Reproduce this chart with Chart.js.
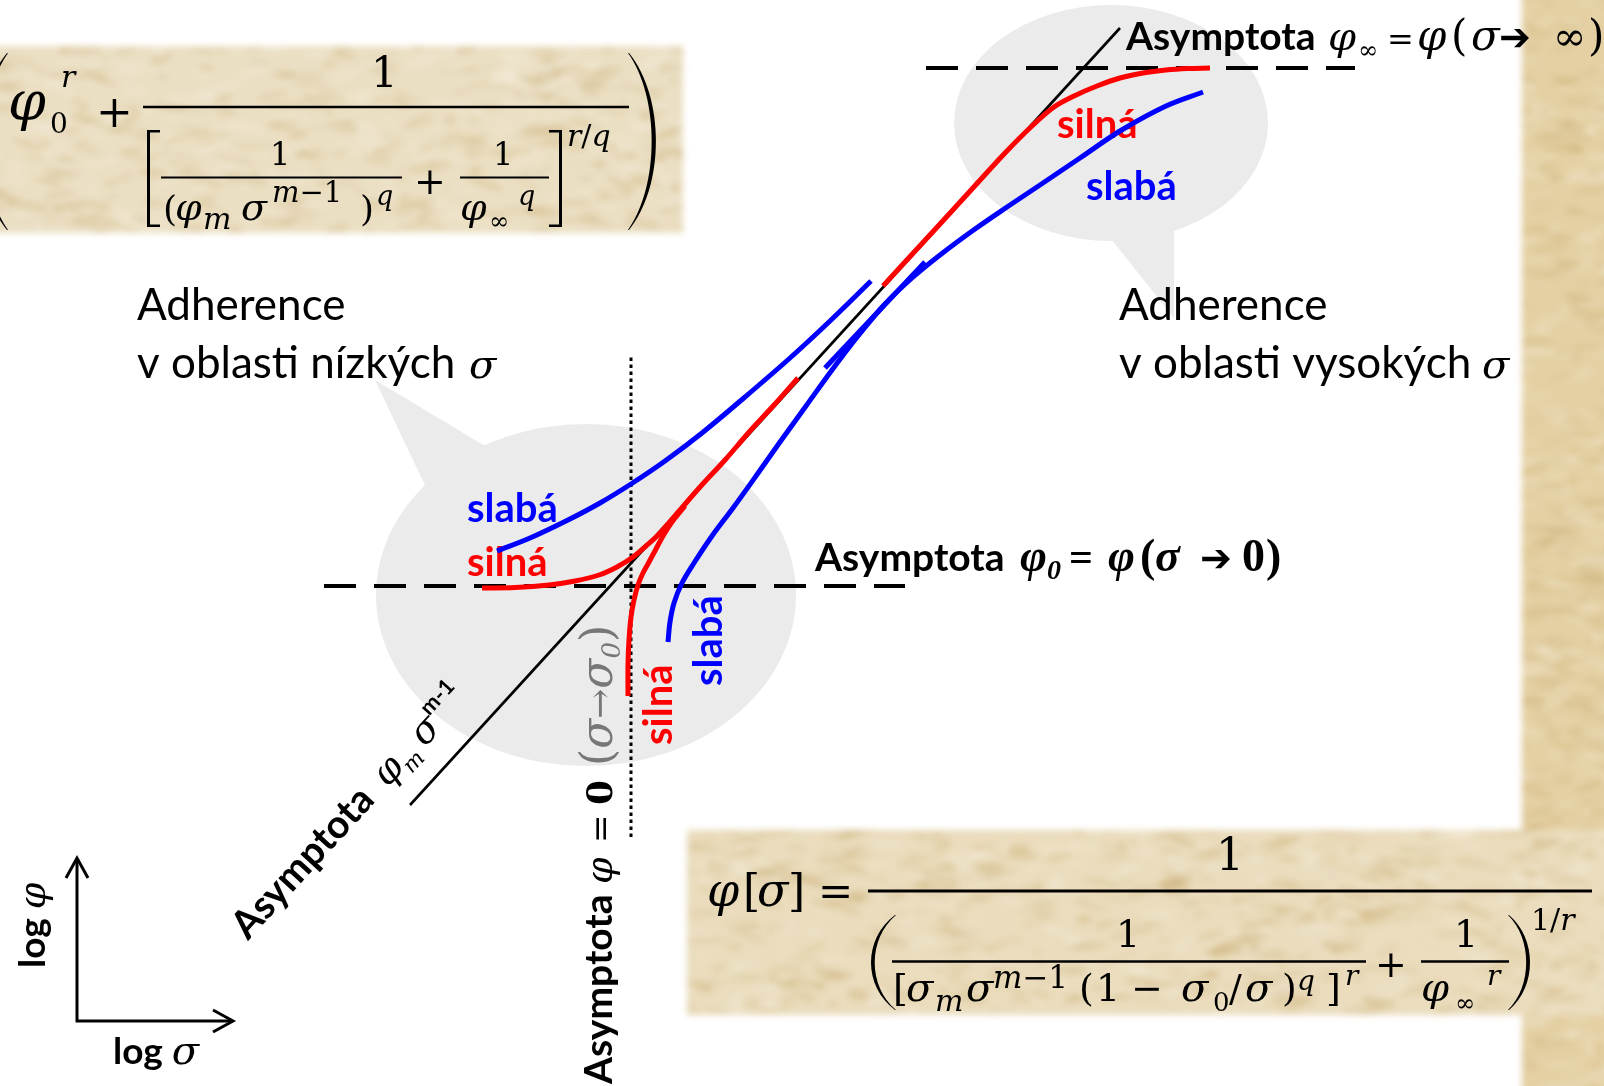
<!DOCTYPE html>
<html lang="cs">
<head>
<meta charset="UTF-8">
<title>Adheze – asymptoty funkce φ(σ)</title>
<script src="https://cdn.jsdelivr.net/npm/chart.js"></script>
<style>
  html, body { margin: 0; padding: 0; background: #fff; overflow: hidden; }
  #wrap { width: 1604px; height: 1086px; }
</style>
</head>
<body>
<div id="wrap"><canvas id="adheze" width="1604" height="1086"></canvas></div>
<script>
// x = log σ, y = log φ (drawing units, y grows upwards)
const W = 1604, H = 1086;

// asymptoty
const asymMX = [410, 1120];
const asymMY = [281, 1058];
const phi0X = [324, 905];
const phi0Y = [500, 500];
const phiInfX = [926, 1355];
const phiInfY = [1018, 1018];
const sigma0X = [631, 631];
const sigma0Y = [249, 730];

// silná adheze
const strongLowX = [482, 515, 549, 575, 599, 617, 633, 646, 658, 680, 700, 725, 750, 775, 798];
const strongLowY = [498, 498.5, 501, 505, 511, 519, 529, 540, 551, 576, 599, 626, 655, 682, 708];
const strongS0X = [628, 628, 629, 631, 634, 638, 643, 649, 656, 663, 672, 685];
const strongS0Y = [390, 421, 446, 469, 486, 501, 513, 524, 537, 550, 564, 580];
const strongHighX = [883, 905, 940, 972, 1005, 1032, 1054, 1074, 1097, 1120, 1143, 1166, 1188, 1210];
const strongHighY = [800, 824, 862, 897, 933, 960, 979, 990, 1000, 1008, 1013, 1016, 1017.5, 1018];

// slabá adheze
const weakLowX = [497, 530, 568, 600, 631, 665, 702, 745, 790, 830, 871];
const weakLowY = [535, 548, 566, 583, 602, 625, 653, 689, 728, 765, 805];
const weakS0X = [668, 670, 674, 682, 694, 712, 733, 756, 780, 806, 832, 858, 885, 912, 940, 975, 1010, 1040, 1080, 1120, 1166, 1203];
const weakS0Y = [444, 464, 483, 503, 523, 550, 578, 610, 644, 680, 716, 750, 782, 808, 831, 857, 881, 901, 928, 955, 980, 994];
const weakHighX = [825, 875, 925];
const weakHighY = [718, 771, 824];

const RED = '#ff0000', BLUE = '#0000ff', GRAY = '#777777', BUBBLE = '#ebebeb';
const MATH = '"DejaVu Serif", "Liberation Serif", serif';
const TIMES = '"Liberation Serif", serif';
const SANS = 'Lato, "Open Sans", sans-serif';
const sansR = s => `${s}px ${SANS}`;
const sansB = s => `bold ${s}px ${SANS}`;
const mR = s => `${s}px ${MATH}`;
const mI = s => `italic ${s}px ${MATH}`;
const mB = s => `bold ${s}px ${MATH}`;
const tB = s => `bold ${s}px ${TIMES}`;
const tBI = s => `italic bold ${s}px ${TIMES}`;
const ARROW = 'bold 38px "DejaVu Sans"';

// bubliny (střed, poloosy, špička)
const bubbles = [
  { cx: 1111, cy: 963, rx: 157, ry: 118, tail: [[1100, 861], [1174, 861], [1174, 768]] },
  { cx: 586, cy: 491, rx: 210, ry: 171, tail: [[432, 586], [500, 631], [375, 706]] }
];

const pts = (xs, ys) => xs.map((x, i) => ({ x, y: ys[i] }));

function line(label, xs, ys, color, width, order, extra) {
  return Object.assign({
    label, data: pts(xs, ys), showLine: true, borderColor: color, borderWidth: width,
    pointRadius: 0, tension: 0, fill: false, order, clip: false
  }, extra || {});
}

const hash = n => { const s = Math.sin(n * 12.9898 + 78.233) * 43758.5453; return s - Math.floor(s); };

// papírové pozadí vzorců
function parchment(ctx, x, y, w, h, base, seed) {
  const off = document.createElement('canvas');
  off.width = w; off.height = h;
  const o = off.getContext('2d');
  o.fillStyle = base;
  o.fillRect(0, 0, w, h);
  const n = Math.round(w * h / 220);
  for (let i = 0; i < n; i++) {
    const k = seed * 10000 + i * 7;
    o.globalAlpha = 0.10 + 0.16 * hash(k + 4);
    o.fillStyle = hash(k + 3) > 0.45 ? '#c6a86c' : '#f8f3e6';
    o.beginPath();
    o.ellipse(hash(k) * w, hash(k + 1) * h, 4 + 18 * hash(k + 2), 1.5 + 4 * hash(k + 5), (hash(k + 6) - 0.5) * 0.8, 0, Math.PI * 2);
    o.fill();
  }
  ctx.save();
  ctx.filter = 'blur(3px)';
  ctx.drawImage(off, x, y);
  ctx.restore();
}

function runs(ctx, x0, y0, ang, parts) {
  ctx.save();
  ctx.translate(x0, y0);
  ctx.rotate(ang);
  let cx = 0;
  parts.forEach(p => {
    if (p.at !== undefined) cx = p.at;
    ctx.font = p.font;
    ctx.fillStyle = p.color || '#000';
    ctx.fillText(p.t, cx, p.dy || 0);
    cx += ctx.measureText(p.t).width;
  });
  ctx.restore();
}

function put(ctx, t, x, y, font) {
  ctx.font = font;
  ctx.fillStyle = '#000';
  ctx.fillText(t, x, y);
}

function bar(ctx, x1, x2, y, h) {
  ctx.fillStyle = '#000';
  ctx.fillRect(x1, y - h / 2, x2 - x1, h);
}

// velká závorka: konce v x, vyklenutí o w ve směru dir
function paren(ctx, x, yT, yB, dir, w, t) {
  const c = w / 0.75, h = yB - yT;
  ctx.fillStyle = '#000';
  ctx.beginPath();
  ctx.moveTo(x, yT);
  ctx.bezierCurveTo(x + dir * c, yT + h * 0.25, x + dir * c, yB - h * 0.25, x, yB);
  ctx.lineTo(x - dir * 1, yB);
  ctx.bezierCurveTo(x + dir * (c - t / 0.75), yB - h * 0.25, x + dir * (c - t / 0.75), yT + h * 0.25, x - dir * 1, yT);
  ctx.closePath();
  ctx.fill();
}

function bracket(ctx, x, yT, yB, dir) {
  ctx.fillStyle = '#000';
  ctx.fillRect(dir > 0 ? x : x - 3, yT, 3, yB - yT);
  ctx.fillRect(dir > 0 ? x : x - 13, yT, 13, 2.5);
  ctx.fillRect(dir > 0 ? x : x - 13, yB - 2.5, 13, 2.5);
}

function formulaTop(ctx) {
  paren(ctx, 7, 53, 230, -1, 27, 4);
  put(ctx, 'φ', 8, 120, mI(54));
  put(ctx, '0', 50, 133, mR(28));
  put(ctx, 'r', 61, 87, mI(30));
  put(ctx, '+', 96, 127, mR(44));
  bar(ctx, 143, 629, 107, 2.5);
  put(ctx, '1', 371, 87, mR(42));
  bracket(ctx, 147, 130, 227, 1);
  put(ctx, '1', 270, 165, mR(32));
  bar(ctx, 161, 402, 177.5, 2);
  put(ctx, '(', 163, 221, mR(36));
  put(ctx, 'φ', 175, 220, mI(38));
  put(ctx, 'm', 203, 229, mI(30));
  put(ctx, 'σ', 241, 220, mI(38));
  runs(ctx, 272, 202, 0, [{ t: 'm', font: mI(29) }, { t: '−1', font: mR(29) }]);
  put(ctx, ')', 360, 221, mR(36));
  put(ctx, 'q', 376, 205, mI(27));
  put(ctx, '+', 414, 194, mR(38));
  put(ctx, '1', 493, 165, mR(32));
  bar(ctx, 460, 549, 177.5, 2);
  put(ctx, 'φ', 460, 220, mI(38));
  put(ctx, '∞', 489, 229, mR(24));
  put(ctx, 'q', 518, 205, mI(27));
  bracket(ctx, 562, 130, 227, -1);
  runs(ctx, 567, 146, 0, [{ t: 'r', font: mI(30) }, { t: '/', font: mR(30) }, { t: 'q', font: mI(30) }]);
  paren(ctx, 629, 53, 230, 1, 27, 4);
}

function formulaBottom(ctx) {
  put(ctx, 'φ', 707, 906, mI(46));
  put(ctx, '[', 743, 906, mR(44));
  put(ctx, 'σ', 757, 906, mI(46));
  put(ctx, ']', 788, 906, mR(44));
  put(ctx, '=', 818, 906, mR(42));
  put(ctx, '1', 1216, 870, mR(44));
  bar(ctx, 868, 1592, 891, 3);
  paren(ctx, 895, 915, 1010, -1, 24, 3.5);
  put(ctx, '1', 1116, 947, mR(38));
  bar(ctx, 892, 1366, 961.5, 2.5);
  put(ctx, '[', 893, 1001, mR(38));
  put(ctx, 'σ', 906, 1001, mI(40));
  put(ctx, 'm', 935, 1011, mI(30));
  put(ctx, 'σ', 966, 1001, mI(40));
  runs(ctx, 993, 988, 0, [{ t: 'm', font: mI(31) }, { t: '−1', font: mR(31) }]);
  put(ctx, '(', 1079, 1001, mR(38));
  put(ctx, '1', 1096, 1001, mR(38));
  put(ctx, '−', 1131, 1001, mR(38));
  put(ctx, 'σ', 1181, 1001, mI(40));
  put(ctx, '0', 1213, 1011, mR(26));
  put(ctx, '/', 1229, 1001, mR(38));
  put(ctx, 'σ', 1245, 1001, mI(40));
  put(ctx, ')', 1282, 1001, mR(38));
  put(ctx, 'q', 1297, 990, mI(28));
  put(ctx, ']', 1326, 1001, mR(38));
  put(ctx, 'r', 1345, 985, mI(28));
  put(ctx, '+', 1375, 977, mR(38));
  put(ctx, '1', 1454, 947, mR(38));
  bar(ctx, 1421, 1509, 961.5, 2.5);
  put(ctx, 'φ', 1421, 1001, mI(40));
  put(ctx, '∞', 1455, 1011, mR(24));
  put(ctx, 'r', 1487, 985, mI(28));
  paren(ctx, 1509, 915, 1010, 1, 21, 3.5);
  runs(ctx, 1531, 930, 0, [{ t: '1/', font: mR(30) }, { t: 'r', font: mI(30) }]);
}

function axesArrows(ctx) {
  ctx.save();
  ctx.strokeStyle = '#000';
  ctx.lineWidth = 3;
  ctx.beginPath();
  ctx.moveTo(77, 860); ctx.lineTo(77, 1021); ctx.lineTo(231, 1021);
  ctx.stroke();
  ctx.beginPath();
  ctx.moveTo(66, 878); ctx.lineTo(77, 858); ctx.lineTo(88, 878);
  ctx.moveTo(213, 1010); ctx.lineTo(233, 1021); ctx.lineTo(213, 1032);
  ctx.stroke();
  ctx.restore();
}

const decor = {
  id: 'decor',
  beforeDraw(chart) {
    const { ctx, scales: { x, y } } = chart;
    ctx.save();
    ctx.fillStyle = '#fff';
    ctx.fillRect(0, 0, chart.width, chart.height);
    parchment(ctx, -20, 46, 703, 187, '#ebdfc3', 1);
    parchment(ctx, 1522, -20, 100, 1130, '#e4d0a3', 2);
    parchment(ctx, 687, 830, 937, 185, '#eadcbc', 3);
    ctx.fillStyle = BUBBLE;
    bubbles.forEach(b => {
      const cx = x.getPixelForValue(b.cx), cy = y.getPixelForValue(b.cy);
      ctx.beginPath();
      ctx.ellipse(cx, cy, x.getPixelForValue(b.cx + b.rx) - cx, cy - y.getPixelForValue(b.cy + b.ry), 0, 0, Math.PI * 2);
      ctx.fill();
      ctx.beginPath();
      b.tail.forEach(([tx, ty], i) => {
        const px = x.getPixelForValue(tx), py = y.getPixelForValue(ty);
        i ? ctx.lineTo(px, py) : ctx.moveTo(px, py);
      });
      ctx.closePath();
      ctx.fill();
    });
    ctx.restore();
  },
  beforeDatasetsDraw(chart) {
    const ctx = chart.ctx;
    ctx.save();
    ctx.textAlign = 'left';
    ctx.textBaseline = 'alphabetic';

    runs(ctx, 137, 320, 0, [{ t: 'Adherence', font: sansR(44) }]);
    runs(ctx, 137, 378, 0, [{ t: 'v oblasti nízkých ', font: sansR(44) }, { t: 'σ', at: 332, font: mI(40) }]);
    runs(ctx, 1119, 320, 0, [{ t: 'Adherence', font: sansR(44) }]);
    runs(ctx, 1119, 378, 0, [{ t: 'v oblasti vysokých ', font: sansR(44) }, { t: 'σ', at: 363, font: mI(40) }]);

    runs(ctx, 1057, 138, 0, [{ t: 'silná', font: sansB(40), color: RED }]);
    runs(ctx, 1086, 200, 0, [{ t: 'slabá', font: sansB(40), color: BLUE }]);
    runs(ctx, 467, 522, 0, [{ t: 'slabá', font: sansB(40), color: BLUE }]);
    runs(ctx, 467, 576, 0, [{ t: 'silná', font: sansB(40), color: RED }]);
    runs(ctx, 722, 686, -Math.PI / 2, [{ t: 'slabá', font: sansB(40), color: BLUE }]);
    runs(ctx, 672, 745, -Math.PI / 2, [{ t: 'silná', font: sansB(40), color: RED }]);

    runs(ctx, 1126, 50, 0, [
      { t: 'Asymptota', font: sansB(39) },
      { t: 'φ', at: 202, font: mI(40) },
      { t: '∞', at: 232, font: mI(24), dy: 8 },
      { t: '=', at: 261, font: mR(32) },
      { t: 'φ', at: 291, font: mI(42) },
      { t: '(', at: 325, font: mR(42) },
      { t: 'σ', at: 345, font: mI(42) },
      { t: '➔', at: 373, font: ARROW },
      { t: '∞', at: 427, font: mR(40) },
      { t: ')', at: 462, font: mR(42) }
    ]);
    runs(ctx, 815, 571, 0, [
      { t: 'Asymptota', font: sansB(39) },
      { t: 'φ', at: 205, font: tBI(46) },
      { t: '0', font: tBI(28), dy: 8 },
      { t: '=', at: 254, font: tB(42) },
      { t: 'φ', at: 293, font: tBI(46) },
      { t: '(', at: 325, font: tB(46) },
      { t: 'σ', at: 340, font: tBI(46) },
      { t: '➔', at: 385, font: ARROW },
      { t: '0', at: 427, font: tB(46) },
      { t: ')', at: 451, font: tB(46) }
    ]);
    runs(ctx, 612, 1084, -Math.PI / 2, [
      { t: 'Asymptota', font: sansB(39) },
      { t: 'φ', at: 200, font: mI(38) },
      { t: '=', at: 241, font: mR(34) },
      { t: '0', at: 279, font: mB(36) },
      { t: '(', at: 318, font: mR(44), color: GRAY },
      { t: 'σ', font: mI(44), color: GRAY },
      { t: '→', font: mR(36), color: GRAY },
      { t: 'σ', font: mI(44), color: GRAY },
      { t: '0', font: mI(26), color: GRAY, dy: 8 },
      { t: ')', font: mR(44), color: GRAY }
    ]);
    runs(ctx, 248, 941, -Math.atan2(775, 710), [
      { t: 'Asymptota', font: sansB(39) },
      { t: 'φ', at: 207, font: mI(38) },
      { t: 'm', font: mI(22), dy: 8 },
      { t: 'σ', at: 262, font: mI(38) },
      { t: 'm-1', at: 288, font: sansB(22), dy: -18 }
    ]);

    runs(ctx, 45, 968, -Math.PI / 2, [{ t: 'log ', font: sansB(37) }, { t: 'φ', font: mI(38) }]);
    runs(ctx, 113, 1064, 0, [{ t: 'log ', font: sansB(37) }, { t: 'σ', font: mI(40) }]);
    axesArrows(ctx);

    formulaTop(ctx);
    formulaBottom(ctx);
    ctx.restore();
  }
};

function build() {
  const curve = { tension: 0.35 };
  new Chart(document.getElementById('adheze'), {
    type: 'scatter',
    data: {
      datasets: [
        line('silná – nízké σ', strongLowX, strongLowY, RED, 5, 0, curve),
        line('silná – σ0', strongS0X, strongS0Y, RED, 5, 0, curve),
        line('silná – vysoké σ', strongHighX, strongHighY, RED, 5, 0, curve),
        line('slabá – nízké σ', weakLowX, weakLowY, BLUE, 5, 1, curve),
        line('slabá – σ0', weakS0X, weakS0Y, BLUE, 5, 1, curve),
        line('slabá – vysoké σ', weakHighX, weakHighY, BLUE, 5, 1, curve),
        line('φm σ^(m-1)', asymMX, asymMY, '#000', 2.6, 2),
        line('φ0', phi0X, phi0Y, '#000', 4, 3, { borderDash: [32, 18] }),
        line('φ∞', phiInfX, phiInfY, '#000', 4, 3, { borderDash: [32, 18] }),
        line('σ0', sigma0X, sigma0Y, '#000', 3, 4, { borderDash: [3.5, 3.5] })
      ]
    },
    options: {
      responsive: false,
      animation: false,
      events: [],
      layout: { padding: 0, autoPadding: false },
      plugins: { legend: { display: false }, tooltip: { enabled: false } },
      scales: {
        x: { type: 'linear', min: 0, max: W, display: false },
        y: { type: 'linear', min: 0, max: H, display: false }
      }
    },
    plugins: [decor]
  });
}

Promise.all([
  document.fonts.load(sansR(44)), document.fonts.load(sansB(40)),
  document.fonts.load(mI(40)), document.fonts.load(mR(40)), document.fonts.load(mB(40)),
  document.fonts.load(tB(40)), document.fonts.load(tBI(40))
]).then(build, build);
</script>
</body>
</html>
